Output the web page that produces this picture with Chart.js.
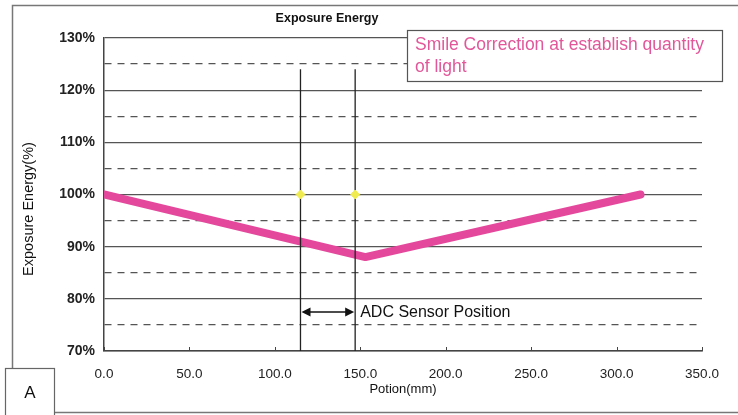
<!DOCTYPE html>
<html>
<head>
<meta charset="utf-8">
<script src="https://cdn.jsdelivr.net/npm/chart.js@4.4.1/dist/chart.umd.min.js"></script>
<style>
  html, body { margin: 0; padding: 0; background: #fff; }
  #wrap { position: relative; width: 738px; height: 415px; }
</style>
</head>
<body>
<div id="wrap"><canvas id="chart"></canvas></div>
<script>
// Datos de la curva de energía de exposición
const positions = [0, 153, 314];
const energy = [100, 88, 100];
// Posición de sensores ADC (mm)
const adcPositions = [115, 147];
const adcRange = [70, 124];
const adcMarkerEnergy = [100, 100];
const arrowEnergy = 77.5;
// Ejes
const xTicks = [0, 50, 100, 150, 200, 250, 300, 350];
const yMin = 70, yMax = 130;

const FONT = '"Liberation Sans", Arial, sans-serif';

// ------------------------ PLUGIN DE DECORACIÓN ------------------------
const decor = {
  id: 'decor',
  beforeDraw(chart) {
    const c = chart.ctx;
    c.save();
    c.fillStyle = '#fff';
    c.fillRect(0, 0, chart.width, chart.height);
    // marco exterior
    c.strokeStyle = '#777';
    c.lineWidth = 1.5;
    c.strokeRect(12.5, 5.5, 760, 407);
    c.restore();
  },
  afterDraw(chart) {
    const c = chart.ctx;
    const x = chart.scales.x, y = chart.scales.y;
    const area = chart.chartArea;
    c.save();
    // ticks interiores en el eje x
    c.strokeStyle = '#444';
    c.lineWidth = 1;
    xTicks.forEach(v => {
      const px = Math.round(x.getPixelForValue(v)) + 0.5;
      c.beginPath();
      c.moveTo(px, area.bottom);
      c.lineTo(px, area.bottom - 4);
      c.stroke();
    });
    // flecha doble entre sensores
    const x1 = x.getPixelForValue(adcPositions[0]);
    const x2 = x.getPixelForValue(adcPositions[1]);
    const ay = y.getPixelForValue(arrowEnergy);
    c.strokeStyle = '#111';
    c.fillStyle = '#111';
    c.lineWidth = 1.5;
    c.beginPath();
    c.moveTo(x1 + 6, ay);
    c.lineTo(x2 - 6, ay);
    c.stroke();
    c.beginPath();
    c.moveTo(x1 + 1, ay); c.lineTo(x1 + 10, ay - 4.5); c.lineTo(x1 + 10, ay + 4.5); c.closePath();
    c.fill();
    c.beginPath();
    c.moveTo(x2 - 1, ay); c.lineTo(x2 - 10, ay - 4.5); c.lineTo(x2 - 10, ay + 4.5); c.closePath();
    c.fill();
    c.font = '16px ' + FONT;
    c.textAlign = 'left';
    c.textBaseline = 'middle';
    c.fillText('ADC Sensor Position', x2 + 5, ay + 1);
    // título
    c.fillStyle = '#111';
    c.font = 'bold 12.5px ' + FONT;
    c.textAlign = 'center';
    c.fillText('Exposure Energy', 327, 19);
    // títulos de ejes
    c.font = '13px ' + FONT;
    c.fillText('Potion(mm)', (area.left + area.right) / 2, 389);
    c.save();
    c.translate(29, 209);
    c.rotate(-Math.PI / 2);
    c.font = '14.5px ' + FONT;
    c.fillText('Exposure Energy(%)', 0, 0);
    c.restore();
    // recuadro de anotación
    c.fillStyle = '#fff';
    c.fillRect(407, 30, 315, 51);
    c.strokeStyle = '#555';
    c.lineWidth = 1.2;
    c.strokeRect(407.5, 30.5, 315, 51);
    c.fillStyle = '#e2579a';
    c.font = '17.5px ' + FONT;
    c.textAlign = 'left';
    c.fillText('Smile Correction at establish quantity', 415, 45);
    c.fillText('of light', 415, 67);
    // recuadro "A"
    c.fillStyle = '#fff';
    c.fillRect(5, 368, 49, 47);
    c.strokeStyle = '#666';
    c.lineWidth = 1.2;
    c.strokeRect(5.5, 368.5, 49, 50);
    c.fillStyle = '#111';
    c.font = '17px ' + FONT;
    c.textAlign = 'center';
    c.fillText('A', 30, 393);
    c.restore();
  }
};

const ctx = document.getElementById('chart').getContext('2d');
new Chart(ctx, {
  type: 'scatter',
  data: {
    datasets: [
      {
        label: 'ADC markers',
        data: adcPositions.map((p, i) => ({ x: p, y: adcMarkerEnergy[i] })),
        pointStyle: 'rectRot',
        pointRadius: 4.5,
        backgroundColor: '#f0ec50',
        borderColor: '#f0ec50',
        borderWidth: 1
      },
      {
        label: 'ADC 1',
        data: adcRange.map(v => ({ x: adcPositions[0], y: v })),
        showLine: true,
        borderColor: '#222',
        borderWidth: 1.3,
        pointRadius: 0
      },
      {
        label: 'ADC 2',
        data: adcRange.map(v => ({ x: adcPositions[1], y: v })),
        showLine: true,
        borderColor: '#222',
        borderWidth: 1.3,
        pointRadius: 0
      },
      {
        label: 'Exposure',
        data: positions.map((p, i) => ({ x: p, y: energy[i] })),
        showLine: true,
        borderColor: '#e4489c',
        borderWidth: 8,
        borderCapStyle: 'round',
        borderJoinStyle: 'round',
        pointRadius: 0,
        tension: 0
      }
    ]
  },
  options: {
    responsive: true,
    maintainAspectRatio: false,
    animation: false,
    layout: { padding: { left: 0, top: 38, right: 36, bottom: 0 } },
    plugins: {
      legend: { display: false },
      title: { display: false },
      tooltip: { enabled: false }
    },
    scales: {
      x: {
        type: 'linear',
        min: 0,
        max: 350,
        afterFit: s => { s.height = 64; },
        afterBuildTicks: s => { s.ticks = xTicks.map(v => ({ value: v })); },
        grid: { display: false },
        border: { display: true, color: '#444', width: 1.5 },
        ticks: {
          padding: 7,
          color: '#222',
          font: { family: FONT, size: 13.5 },
          callback: v => v.toFixed(1),
          maxRotation: 0
        }
      },
      y: {
        min: yMin,
        max: yMax,
        afterFit: s => { s.width = 104; },
        ticks: {
          stepSize: 5,
          padding: 9,
          color: '#222',
          font: { family: FONT, size: 14, weight: 'bold' },
          callback: v => (v % 10 === 0 ? v + '%' : '')
        },
        grid: {
          drawTicks: false,
          color: '#555',
          lineWidth: 1.3
        },
        border: {
          display: true,
          color: '#444',
          width: 1.5,
          dash: c => (c.tick && c.tick.value % 10 !== 0 ? [7, 6] : [])
        }
      }
    }
  },
  plugins: [decor]
});
</script>
</body>
</html>
